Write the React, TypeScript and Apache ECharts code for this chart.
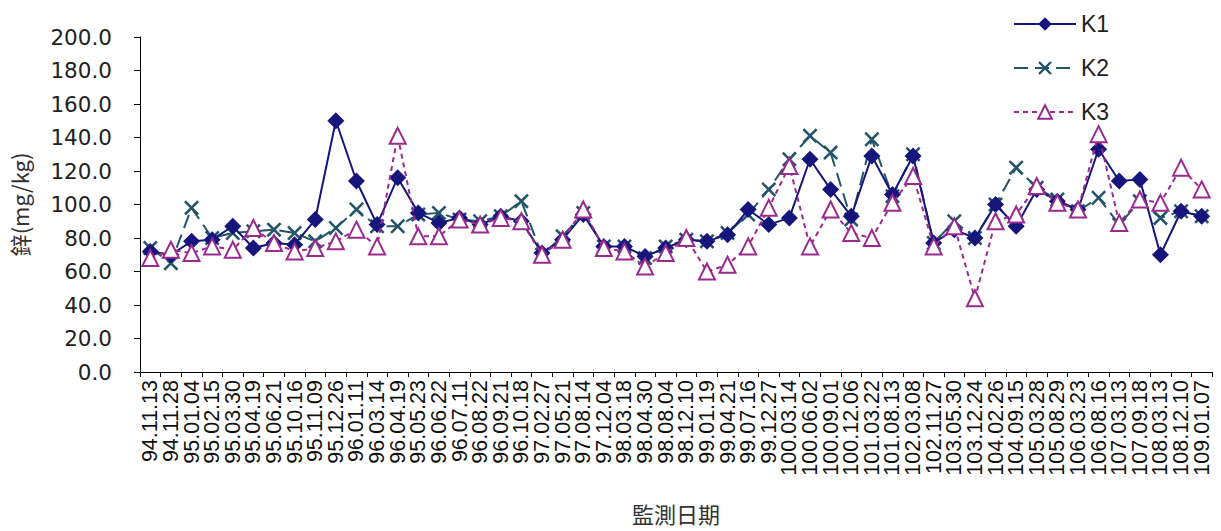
import React, { useEffect, useRef } from "react";
import * as echarts from "echarts";

const categories = [
  "94.11.13", "94.11.28", "95.01.04", "95.02.15", "95.03.30", "95.04.19", "95.06.21", "95.10.16",
  "95.11.09", "95.12.26", "96.01.11", "96.03.14", "96.04.19", "95.05.23", "96.06.22", "96.07.11",
  "96.08.22", "96.09.21", "96.10.18", "97.02.27", "97.05.21", "97.08.14", "97.12.04", "98.03.18",
  "98.04.30", "98.08.04", "98.12.10", "99.01.19", "99.04.21", "99.07.16", "99.12.27", "100.03.14",
  "100.06.02", "100.09.01", "100.12.06", "101.03.22", "101.08.13", "102.03.08", "102.11.27", "103.05.30",
  "103.12.24", "104.02.26", "104.09.15", "105.03.28", "105.08.29", "106.03.23", "106.08.16", "107.03.13",
  "107.09.18", "108.03.13", "108.12.10", "109.01.07",
];

const k1 = [
  72, 70, 78, 79, 87, 74, 77, 76, 91, 150, 114, 88, 116, 95, 89, 92, 88, 93, 90, 71, 79, 94, 75, 75,
  69, 74, 79, 78, 82, 97, 88, 92, 127, 109, 93, 129, 106, 129, 77, 85, 80, 100, 87, 109, 102, 97,
  133, 114, 115, 70, 96, 93,
];

const k2 = [
  74, 65, 98, 80, 83, 84, 85, 83, 78, 86, 97, 87, 87, 94, 95, 91, 90, 93, 102, 70, 81, 95, 75, 75,
  68, 75, 79, 78, 83, 94, 109, 127, 141, 131, 91, 139, 105, 130, 77, 90, 80, 100, 122, 110, 103, 96,
  104, 88, 102, 92, 96, 93,
];

const k3 = [
  68, 73, 71, 75, 73, 86, 77, 72, 74, 78, 85, 75, 141, 81, 81, 91, 88, 92, 90, 70, 79, 97, 74, 72,
  63, 71, 80, 60, 64, 75, 98, 123, 75, 97, 83, 80, 101, 117, 75, 87, 44, 90, 94, 111, 101, 97,
  142, 89, 103, 101, 122, 109,
];

const seriesNames = ["K1", "K2", "K3"];
const yTicks = { min: 0, max: 200, interval: 20 };

const C1 = "#15157c";
const C2 = "#235468";
const C3 = "#9a2a8e";
const X_PATH =
  "path://M0,1.2 L1.2,0 L5,3.8 L8.8,0 L10,1.2 L6.2,5 L10,8.8 L8.8,10 L5,6.2 L1.2,10 L0,8.8 L3.8,5 Z";

export default function App() {
  const ref = useRef<HTMLDivElement>(null);
  useEffect(() => {
    if (!ref.current) return;
    const chart = echarts.init(ref.current, null, { renderer: "svg" });
    const axisFont = "'Liberation Sans', Arial, sans-serif";
    chart.setOption({
      animation: false,
      backgroundColor: "#ffffff",
      grid: { left: 137, top: 37, right: 9, bottom: 159, containLabel: false },
      legend: {
        orient: "vertical",
        left: 1008,
        top: 7,
        itemWidth: 62,
        itemHeight: 17,
        itemGap: 20,
        textStyle: { fontSize: 23, color: "#222", fontFamily: axisFont, lineHeight: 24 },
        data: seriesNames,
      },
      xAxis: {
        type: "category",
        data: categories,
        boundaryGap: true,
        name: "監測日期",
        nameLocation: "middle",
        nameGap: 130,
        nameTextStyle: { fontSize: 22, color: "#333", fontFamily: "'Noto Sans CJK TC', sans-serif" },
        axisLine: { lineStyle: { color: "#000", width: 1 } },
        axisTick: { show: true, length: 5, inside: false, lineStyle: { color: "#000" } },
        axisLabel: {
          interval: 0,
          rotate: 90,
          margin: 8,
          fontSize: 21.5,
          color: "#111",
          fontFamily: axisFont,
        },
        splitLine: { show: false },
      },
      yAxis: {
        type: "value",
        min: yTicks.min,
        max: yTicks.max,
        interval: yTicks.interval,
        name: "鋅(mg/kg)",
        nameLocation: "middle",
        nameRotate: 90,
        nameGap: 110,
        nameTextStyle: { fontSize: 22, color: "#333", fontFamily: "'Noto Sans CJK TC', sans-serif" },
        axisLine: { show: true, lineStyle: { color: "#000", width: 1 } },
        axisTick: { show: true, length: 6, inside: false, lineStyle: { color: "#000" } },
        axisLabel: {
          margin: 28,
          fontSize: 21.5,
          color: "#222",
          fontFamily: "'DejaVu Sans', sans-serif",
          formatter: (v: number) => v.toFixed(1),
        },
        splitLine: { show: false },
      },
      series: [
        {
          name: "K1",
          type: "line",
          data: k1,
          symbol: "diamond",
          symbolSize: 17,
          itemStyle: { color: C1 },
          lineStyle: { color: C1, width: 2, type: "solid" },
          z: 3,
        },
        {
          name: "K2",
          type: "line",
          data: k2,
          symbol: X_PATH,
          symbolSize: 15,
          itemStyle: { color: C2 },
          lineStyle: { color: C2, width: 2, type: [14, 7] },
          z: 2,
        },
        {
          name: "K3",
          type: "line",
          data: k3,
          symbol: "triangle",
          symbolSize: 16,
          itemStyle: { color: "#ffffff", borderColor: C3, borderWidth: 2 },
          lineStyle: { color: C3, width: 2, type: [5, 4] },
          z: 4,
        },
      ],
    });
    return () => chart.dispose();
  }, []);
  return (
    <div
      ref={ref}
      style={{ position: "fixed", left: 0, top: 0, width: 1221, height: 531, background: "#fff" }}
    />
  );
}
